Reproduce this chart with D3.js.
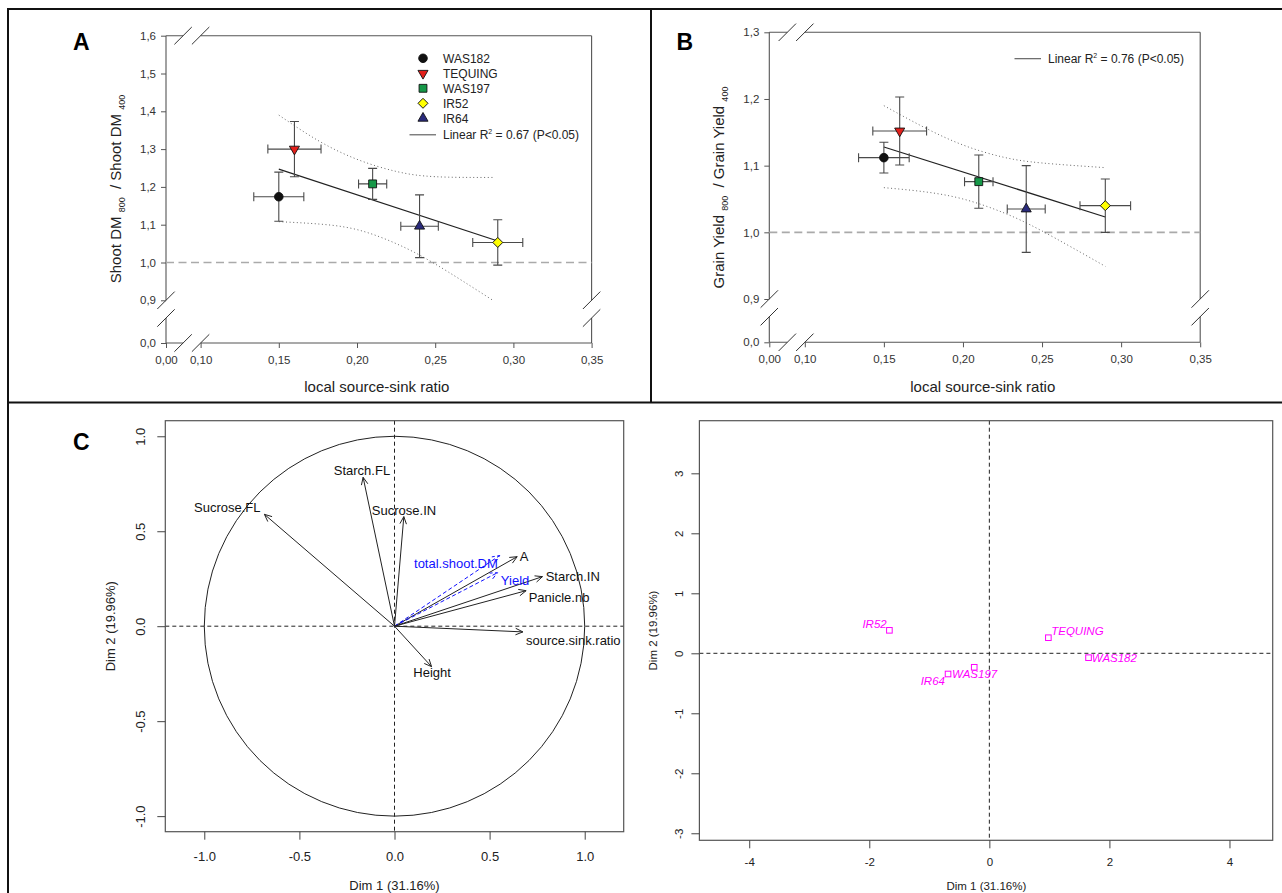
<!DOCTYPE html>
<html><head><meta charset="utf-8">
<script src="https://cdn.jsdelivr.net/npm/d3@7"></script>
<style>
body{margin:0;background:#fff}
svg{display:block}
text{font-family:"Liberation Sans",Arial,Helvetica,sans-serif;white-space:pre}
</style>
</head><body>
<svg id="c" width="1282" height="893"></svg>
<script>
// ---------------- DATA ----------------
const cultivars = ["WAS182","TEQUING","WAS197","IR52","IR64"];
const sourceSinkRatio = [0.150,0.160,0.210,0.290,0.240];
const sourceSinkErr   = [0.016,0.017,0.009,0.016,0.012];
const shootDMRatio    = [1.174,1.300,1.208,1.053,1.096];
const shootDMErr      = [0.065,0.073,0.041,0.060,0.083];
const grainYieldRatio = [1.112,1.152,1.076,1.040,1.035];
const grainYieldErr   = [0.023,0.051,0.040,0.040,0.065];

const fitX       = [0.15,0.29];
const shootFitY  = [1.247,1.057];
const yieldFitY  = [1.128,1.023];
const bandXA         = [0.150,0.175,0.200,0.225,0.250,0.287];
const shootBandUpper = [1.390,1.323,1.273,1.241,1.227,1.225];
const shootBandLower = [1.108,1.102,1.087,1.050,0.996,0.897];
const bandXB         = [0.150,0.175,0.200,0.225,0.250,0.290];
const yieldBandUpper = [1.190,1.158,1.131,1.113,1.104,1.097];
const yieldBandLower = [1.067,1.061,1.050,1.030,1.002,0.949];

const xTicksAB = [0,0.10,0.15,0.20,0.25,0.30,0.35];
const yTicksA  = [0,0.9,1.0,1.1,1.2,1.3,1.4,1.5,1.6];
const yTicksB  = [0,0.9,1.0,1.1,1.2,1.3];
const fitLegendA = ["Linear R","2"," = 0.67 (P<0.05)"];
const fitLegendB = ["Linear R","2"," = 0.76 (P<0.05)"];

// PCA variables
const varNames = ["Sucrose.FL","Starch.FL","Sucrose.IN","A","total.shoot.DM","Yield","Starch.IN","Panicle.nb","source.sink.ratio","Height"];
const varDim1  = [-0.684,-0.165,0.049,0.645,0.553,0.542,0.778,0.692,0.675,0.195];
const varDim2  = [0.589,0.784,0.577,0.366,0.372,0.282,0.261,0.187,-0.030,-0.213];
const varSupplementary = [false,false,false,false,true,true,false,false,false,false];
const varLabelDim1 = [-0.879,-0.171,0.050,0.681,0.323,0.634,0.937,0.865,0.940,0.198];
const varLabelDim2 = [0.626,0.822,0.612,0.366,0.331,0.240,0.261,0.152,-0.073,-0.245];
const varTicks = [-1,-0.5,0,0.5,1];

// PCA individuals
const indNames = ["IR52","TEQUING","WAS182","WAS197","IR64"];
const indDim1  = [-1.665,0.983,1.652,-0.252,-0.688];
const indDim2  = [0.383,0.260,-0.073,-0.233,-0.345];
const indLabelDim1 = [-1.912,1.467,2.082,-0.245,-0.942];
const indLabelDim2 = [0.483,0.372,-0.073,-0.345,-0.457];
const indXTicks = [-4,-2,0,2,4];
const indYTicks = [-3,-2,-1,0,1,2,3];

// ---------------- DRAW ----------------
const svg = d3.select("#c");
const comma = (n) => d => d.toFixed(n).replace(".", ",");

// frame
svg.append("path")
  .attr("d","M8,893 V9 H1282 M651,9 V402.5 M8,402.5 H1282")
  .attr("fill","none").attr("stroke","#111").attr("stroke-width",2);

const styleOf = {
  WAS182:{shape:"circle", fill:"#111"},
  TEQUING:{shape:"down", fill:"#e3201b"},
  WAS197:{shape:"square", fill:"#169848"},
  IR52:{shape:"diamond", fill:"#ffff00"},
  IR64:{shape:"up", fill:"#2a2b7c"}
};
function marker(g, name, cx, cy) {
  const s = styleOf[name];
  let type, size, rot = 0;
  if (s.shape==="circle"){type=d3.symbolCircle; size=58;}
  else if (s.shape==="square"){type=d3.symbolSquare; size=62;}
  else if (s.shape==="diamond"){type=d3.symbolSquare; size=50; rot=45;}
  else {type=d3.symbolTriangle; size=44; rot = s.shape==="down"?180:0;}
  g.append("path").attr("d", d3.symbol().type(type).size(size)())
    .attr("transform",`translate(${cx},${cy}) rotate(${rot})`)
    .attr("fill", s.fill).attr("stroke","#111").attr("stroke-width",0.9);
}

function scatterPanel(o) {
  const g = svg.append("g");
  const x = d3.scaleLinear().domain([0,0.10,0.35]).range(o.xr);
  const y = d3.scaleLinear().domain([0,0.9,o.yMax]).range(o.yr);
  const x0=x(0), x1=x(0.35), y0=y(0), y1=y(o.yMax);
  const bx1=x(0.10)-17.5, bx2=x(0.10), by1=y(0.9), by2=y(0.9)+17.7;
  const p = d3.path();
  p.moveTo(x0,y1); p.lineTo(x0,by1); p.moveTo(x0,by2); p.lineTo(x0,y0);
  p.moveTo(x1,y1); p.lineTo(x1,by1); p.moveTo(x1,by2); p.lineTo(x1,y0);
  p.moveTo(x0,y0); p.lineTo(bx1,y0); p.moveTo(bx2,y0); p.lineTo(x1,y0);
  p.moveTo(x0,y1); p.lineTo(bx1,y1); p.moveTo(bx2,y1); p.lineTo(x1,y1);
  g.append("path").attr("d",p.toString()).attr("fill","none").attr("stroke","#555").attr("stroke-width",1.1);
  const s = d3.path();
  [[x0,by1],[x0,by2],[x1,by1],[x1,by2],[bx1,y0],[bx2,y0],[bx1,y1],[bx2,y1]].forEach(([cx,cy])=>{
    s.moveTo(cx-8.7,cy+8.7); s.lineTo(cx+8.7,cy-8.7);
  });
  g.append("path").attr("d",s.toString()).attr("fill","none").attr("stroke","#333").attr("stroke-width",1);

  // axes
  const ay = g.append("g").attr("transform",`translate(${x0},0)`)
    .call(d3.axisLeft(y).tickValues(o.yTicks).tickSize(5).tickPadding(5).tickFormat(comma(1)));
  const ax = g.append("g").attr("transform",`translate(0,${y0})`)
    .call(d3.axisBottom(x).tickValues(xTicksAB).tickSize(5).tickPadding(8).tickFormat(comma(2)));
  [ay,ax].forEach(a=>{
    a.select(".domain").remove();
    a.selectAll("line").attr("stroke","#555");
    a.selectAll("text").attr("fill","#333").style("font-size","11.5px");
  });

  // reference line y=1
  g.append("line").attr("x1",x0).attr("x2",x1).attr("y1",y(1)).attr("y2",y(1))
    .attr("stroke","#aaa").attr("stroke-width",1.6).attr("stroke-dasharray","8,4.5");

  // confidence bands
  const band = (xs, ys) => d3.line().x((d,i)=>x(xs[i])).y(d=>y(d)).curve(d3.curveNatural)(ys);
  [o.bandU,o.bandL].forEach(b=>{
    g.append("path").attr("d",band(o.bandX,b)).attr("fill","none")
      .attr("stroke","#666").attr("stroke-width",1).attr("stroke-dasharray","1,2.6");
  });
  // fit line
  g.append("line").attr("x1",x(fitX[0])).attr("y1",y(o.fitY[0]))
    .attr("x2",x(fitX[1])).attr("y2",y(o.fitY[1])).attr("stroke","#222").attr("stroke-width",1.2);

  // error bars
  const cap = 4.5;
  cultivars.forEach((c,i)=>{
    const cx=x(sourceSinkRatio[i]), cy=y(o.yv[i]);
    const ytop=y(o.yv[i]+o.ye[i]), ybot=y(o.yv[i]-o.ye[i]);
    const xl=x(sourceSinkRatio[i]-sourceSinkErr[i]), xr=x(sourceSinkRatio[i]+sourceSinkErr[i]);
    const e = d3.path();
    e.moveTo(cx,ytop); e.lineTo(cx,ybot);
    e.moveTo(cx-cap,ytop); e.lineTo(cx+cap,ytop);
    e.moveTo(cx-cap,ybot); e.lineTo(cx+cap,ybot);
    e.moveTo(xl,cy); e.lineTo(xr,cy);
    e.moveTo(xl,cy-cap); e.lineTo(xl,cy+cap);
    e.moveTo(xr,cy-cap); e.lineTo(xr,cy+cap);
    g.append("path").attr("d",e.toString()).attr("fill","none").attr("stroke","#4a4a4a").attr("stroke-width",1.1);
  });
  cultivars.forEach((c,i)=> marker(g, c, x(sourceSinkRatio[i]), y(o.yv[i])));

  // titles
  const t = g.append("text").attr("transform",`translate(${o.yTitleX},${o.yTitleY}) rotate(-90)`)
    .attr("text-anchor","middle").attr("fill","#222").style("font-size","15px");
  t.append("tspan").text(o.yTitle+" ");
  t.append("tspan").attr("dy",4).style("font-size","9px").text("800");
  t.append("tspan").attr("dy",-4).text("  / "+o.yTitle+" ");
  t.append("tspan").attr("dy",4).style("font-size","9px").text("400");
  g.append("text").attr("x",(x0+x1)/2-2).attr("y",391.5).attr("text-anchor","middle")
    .attr("fill","#222").style("font-size","15px").text("local source-sink ratio");
  g.append("text").attr("x",o.letterX).attr("y",50).attr("fill","#000")
    .style("font-size","23px").style("font-weight","bold").text(o.letter);

  // legend
  const lg = g.append("g");
  if (o.showCultivars) {
    cultivars.forEach((c,i)=>{
      const ly = o.legY + i*15;
      marker(lg, c, o.legSymX, ly);
      lg.append("text").attr("x",o.legTextX).attr("y",ly).attr("dy","0.36em")
        .attr("fill","#222").style("font-size","12px").text(c);
    });
  }
  const fy = o.showCultivars ? o.legY + 76.5 : o.legY;
  lg.append("line").attr("x1",o.legTextX-33.5).attr("x2",o.legTextX-7).attr("y1",fy).attr("y2",fy)
    .attr("stroke","#555").attr("stroke-width",1.1);
  const ft = lg.append("text").attr("x",o.legTextX).attr("y",fy+4.3)
    .attr("fill","#222").style("font-size","12px");
  ft.append("tspan").text(o.fitLegend[0]);
  ft.append("tspan").attr("dy",-5).style("font-size","7px").text(o.fitLegend[1]);
  ft.append("tspan").attr("dy",5).text(o.fitLegend[2]);
}

scatterPanel({xr:[166,200.6,591.6], yr:[343,300.3,35.7], yMax:1.6, yTicks:yTicksA,
  yv:shootDMRatio, ye:shootDMErr, fitY:shootFitY, bandX:bandXA, bandU:shootBandUpper, bandL:shootBandLower,
  yTitle:"Shoot DM", yTitleX:120.5, yTitleY:189, letter:"A", letterX:73,
  showCultivars:true, legY:58.3, legSymX:423, legTextX:443, fitLegend:fitLegendA});
scatterPanel({xr:[769.3,804.8,1200.2], yr:[342.3,299,32.3], yMax:1.3, yTicks:yTicksB,
  yv:grainYieldRatio, ye:grainYieldErr, fitY:yieldFitY, bandX:bandXB, bandU:yieldBandUpper, bandL:yieldBandLower,
  yTitle:"Grain Yield", yTitleX:724, yTitleY:187.5, letter:"B", letterX:676.5,
  showCultivars:false, legY:58.7, legSymX:0, legTextX:1048, fitLegend:fitLegendB});

// ---------- Panel C left: variables factor map ----------
(function(){
  const g = svg.append("g");
  const L=165.3,R=623.7,T=420.7,B=831.7;
  const x = d3.scaleLinear().domain([-1.205,1.205]).range([L,R]);
  const y = d3.scaleLinear().domain([-1.082,1.082]).range([B,T]);
  g.append("ellipse").attr("cx",x(0)).attr("cy",y(0)).attr("rx",x(1)-x(0)).attr("ry",y(0)-y(1))
    .attr("fill","none").attr("stroke","#222").attr("stroke-width",1);
  g.append("line").attr("x1",x(0)).attr("x2",x(0)).attr("y1",T).attr("y2",B)
    .attr("stroke","#222").attr("stroke-dasharray","4,3");
  g.append("line").attr("x1",L).attr("x2",R).attr("y1",y(0)).attr("y2",y(0))
    .attr("stroke","#222").attr("stroke-dasharray","4,3");
  const ox=x(0), oy=y(0), HL=8, HA=0.42;
  varNames.forEach((n,i)=>{
    const tx=x(varDim1[i]), ty=y(varDim2[i]);
    const col = varSupplementary[i] ? "#1010ff" : "#222";
    const th = Math.atan2(ty-oy, tx-ox);
    const p = d3.path();
    p.moveTo(ox,oy); p.lineTo(tx,ty);
    p.moveTo(tx-HL*Math.cos(th-HA), ty-HL*Math.sin(th-HA)); p.lineTo(tx,ty);
    p.lineTo(tx-HL*Math.cos(th+HA), ty-HL*Math.sin(th+HA));
    g.append("path").attr("d",p.toString()).attr("fill","none").attr("stroke",col).attr("stroke-width",1)
      .attr("stroke-dasharray", varSupplementary[i] ? "4,2.5" : null);
  });
  varNames.forEach((n,i)=>{
    g.append("text").attr("x",x(varLabelDim1[i])).attr("y",y(varLabelDim2[i])).attr("dy","0.36em")
      .attr("text-anchor","middle").attr("fill", varSupplementary[i] ? "#1010ff" : "#111")
      .style("font-size","13px").text(n);
  });
  g.append("rect").attr("x",L).attr("y",T).attr("width",R-L).attr("height",B-T)
    .attr("fill","none").attr("stroke","#555").attr("stroke-width",1.2);
  const ax = g.append("g").attr("transform",`translate(0,${B})`)
    .call(d3.axisBottom(x).tickValues(varTicks).tickSize(8).tickFormat(d=>d.toFixed(1)));
  ax.selectAll("text").attr("y",29).attr("dy",0);
  const ay = g.append("g").attr("transform",`translate(${L},0)`)
    .call(d3.axisLeft(y).tickValues(varTicks).tickSize(8).tickFormat(d=>d.toFixed(1)));
  ay.selectAll("text").attr("x",0).attr("dy",0).attr("text-anchor","middle")
    .attr("transform","translate(-20,0) rotate(-90)");
  [ax,ay].forEach(a=>{
    a.select(".domain").remove();
    a.selectAll("line").attr("stroke","#444");
    a.selectAll("text").attr("fill","#222").style("font-size","13px");
  });
  g.append("text").attr("x",x(0)).attr("y",889.5).attr("text-anchor","middle").attr("fill","#222")
    .style("font-size","13px").text("Dim 1 (31.16%)");
  g.append("text").attr("transform",`translate(115,${y(0)}) rotate(-90)`).attr("text-anchor","middle")
    .attr("fill","#222").style("font-size","13px").text("Dim 2 (19.96%)");
  g.append("text").attr("x",73).attr("y",449.5).attr("fill","#000")
    .style("font-size","23px").style("font-weight","bold").text("C");
})();

// ---------- Panel C right: individuals factor map ----------
(function(){
  const g = svg.append("g");
  const L=699.4,R=1272.7,T=420.7,B=840.3;
  const x = d3.scaleLinear().domain([-4.83,4.72]).range([L,R]);
  const y = d3.scaleLinear().domain([-3.117,3.877]).range([B,T]);
  g.append("line").attr("x1",x(0)).attr("x2",x(0)).attr("y1",T).attr("y2",B)
    .attr("stroke","#222").attr("stroke-dasharray","4,3");
  g.append("line").attr("x1",L).attr("x2",R).attr("y1",y(0)).attr("y2",y(0))
    .attr("stroke","#222").attr("stroke-dasharray","4,3");
  indNames.forEach((n,i)=>{
    g.append("rect").attr("x",x(indDim1[i])-2.8).attr("y",y(indDim2[i])-2.8).attr("width",5.6).attr("height",5.6)
      .attr("fill","none").attr("stroke","#ff00ff").attr("stroke-width",1);
    g.append("text").attr("x",x(indLabelDim1[i])).attr("y",y(indLabelDim2[i])).attr("dy","0.36em")
      .attr("text-anchor","middle").attr("fill","#ff00ff").style("font-size","11.5px")
      .style("font-style","italic").text(n);
  });
  g.append("rect").attr("x",L).attr("y",T).attr("width",R-L).attr("height",B-T)
    .attr("fill","none").attr("stroke","#555").attr("stroke-width",1.2);
  const ax = g.append("g").attr("transform",`translate(0,${B})`)
    .call(d3.axisBottom(x).tickValues(indXTicks).tickSize(8).tickFormat(d=>String(d)));
  ax.selectAll("text").attr("y",25.5).attr("dy",0);
  const ay = g.append("g").attr("transform",`translate(${L},0)`)
    .call(d3.axisLeft(y).tickValues(indYTicks).tickSize(8).tickFormat(d=>String(d)));
  ay.selectAll("text").attr("x",0).attr("dy",0).attr("text-anchor","middle")
    .attr("transform","translate(-16.5,0) rotate(-90)");
  [ax,ay].forEach(a=>{
    a.select(".domain").remove();
    a.selectAll("line").attr("stroke","#444");
    a.selectAll("text").attr("fill","#222").style("font-size","11.5px");
  });
  g.append("text").attr("x",x(0)-3).attr("y",890).attr("text-anchor","middle").attr("fill","#222")
    .style("font-size","11.5px").text("Dim 1 (31.16%)");
  g.append("text").attr("transform",`translate(656.5,630.5) rotate(-90)`).attr("text-anchor","middle")
    .attr("fill","#222").style("font-size","11.5px").text("Dim 2 (19.96%)");
})();
</script>
</body></html>
